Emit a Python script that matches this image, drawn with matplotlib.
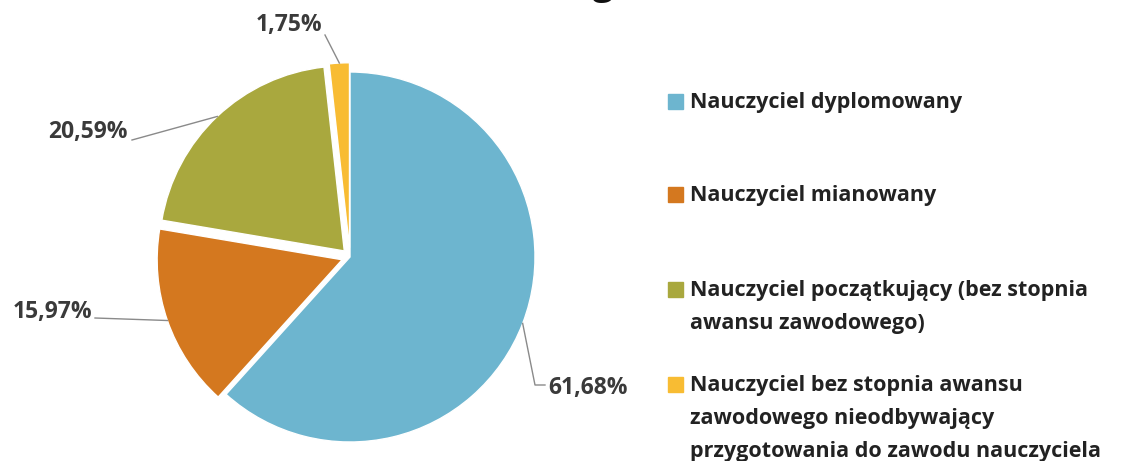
import numpy as np
import matplotlib
matplotlib.use("Agg")
import matplotlib.pyplot as plt
from matplotlib.patches import Rectangle

# data
categories = [
    "Nauczyciel dyplomowany",
    "Nauczyciel mianowany",
    "Nauczyciel początkujący (bez stopnia\nawansu zawodowego)",
    "Nauczyciel bez stopnia awansu\nzawodowego nieodbywający\nprzygotowania do zawodu nauczyciela",
]
values = [61.68, 15.97, 20.59, 1.75]
value_labels = ["61,68%", "15,97%", "20,59%", "1,75%"]
colors = ["#6DB5CF", "#D4781F", "#A9A83E", "#F8BC33"]
explode = [0, 0.045, 0.045, 0.05]

plt.rcParams['font.family'] = ['Open Sans', 'DejaVu Sans']

W, H = 1133, 461
fig = plt.figure(figsize=(W / 100, H / 100), dpi=100)
ax = fig.add_axes([0, 0, 1, 1])

# pixel layout -> data units (pie radius = 1)
cx, cy, R = 350, 257, 185
def px(x, y):
    return (x - cx) / R, (cy - y) / R

wedges, _ = ax.pie(values, colors=colors, explode=explode, startangle=90,
                   counterclock=False, radius=1, center=(0, 0),
                   wedgeprops=dict(edgecolor='white', linewidth=1.0))
ax.set_xlim(-cx / R, (W - cx) / R)
ax.set_ylim(-(H - cy) / R, cy / R)
ax.axis('off')

# label leader lines: (elbow point, end point, text anchor, ha)
label_layout = [
    (px(535, 385), px(545, 385), px(548, 388), 'left'),
    (px(95, 318), px(95, 318), px(92, 312), 'right'),
    (px(132, 140), px(132, 140), px(128, 132), 'right'),
    (px(325, 35), px(325, 35), px(322, 25), 'right'),
]
for w, ex, lab, (elbow, end, tpos, ha) in zip(wedges, explode, value_labels, label_layout):
    ang = np.deg2rad((w.theta1 + w.theta2) / 2)
    r = 1 + ex
    x0, y0 = r * np.cos(ang), r * np.sin(ang)
    ax.plot([x0, elbow[0], end[0]], [y0, elbow[1], end[1]], color='#8a8a8a', lw=1)
    ax.text(tpos[0], tpos[1], lab, ha=ha, va='center', fontsize=16.5,
            fontweight='bold', color='#3a3a3a')

# legend drawn by hand, first line aligned with the marker
leg_rows = [102, 195, 290, 385]
for cat, col, row in zip(categories, colors, leg_rows):
    mx, my = px(668, row + 7)
    ax.add_patch(Rectangle((mx, my), 15 / R, 15 / R, color=col))
    tx, ty = px(690, row - 10)
    ax.text(tx, ty, cat, ha='left', va='top', fontsize=15.5, fontweight='bold',
            color='#222222', linespacing=1.75)

# title (mostly above the visible area)
fig.text(551 / W, 1 - 2.6 / H, "Stopień awansu\nzawodowego [%]", ha='center',
         va='bottom', fontsize=27, fontweight='bold', color='#111111')

fig.savefig("out.png", dpi=100)
